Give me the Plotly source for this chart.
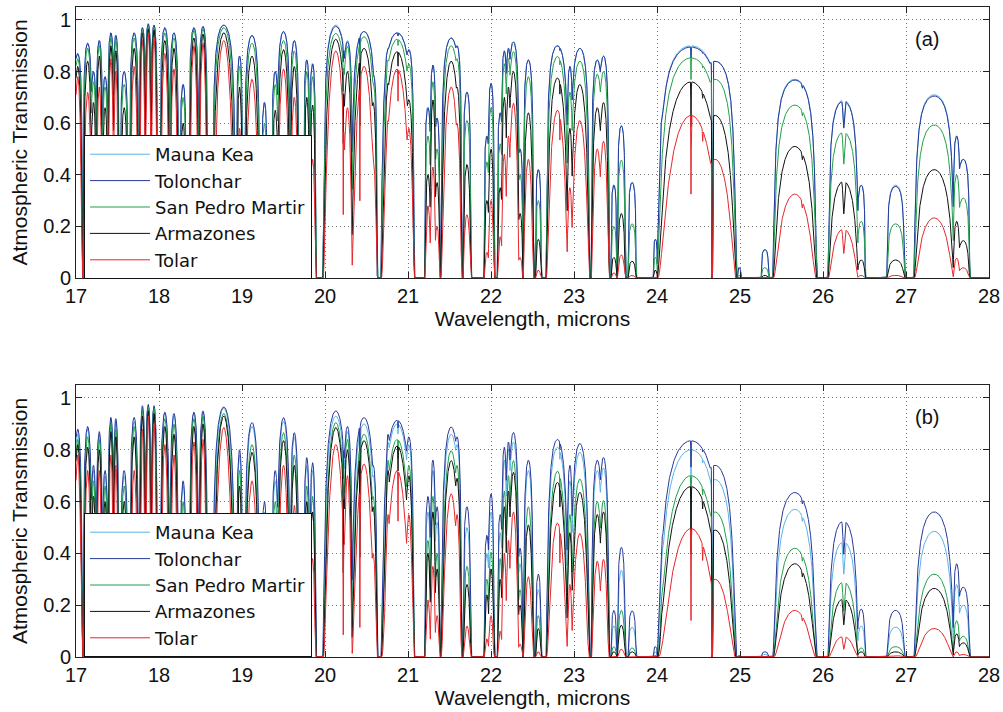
import numpy as np
import plotly.graph_objects as go

# ---------------- data ----------------
sites = ["Mauna Kea", "Tolonchar", "San Pedro Martir", "Armazones", "Tolar"]
site_colors = ["#5AB4E5", "#27399B", "#22A04B", "#111111", "#E8262B"]

# transmission windows: centre (micron) and half width at zero (micron)
win_center = [17.02, 17.14, 17.21, 17.28, 17.35, 17.42, 17.48, 17.58, 17.70, 17.80,
              17.87, 17.94, 18.07, 18.18, 18.29, 18.42, 18.53, 18.78, 18.97, 19.12,
              19.27, 19.40, 19.50, 19.63, 19.78, 19.85, 20.13, 20.27, 20.47, 20.58,
              20.76, 20.87, 21.01, 21.24, 21.30, 21.35, 21.52, 21.59, 21.71, 21.95,
              22.00, 22.11, 22.16, 22.21, 22.27, 22.35, 22.45, 22.57, 22.80, 22.95,
              23.07, 23.28, 23.355, 23.48, 23.57, 23.70, 23.98, 24.07, 24.41, 24.70,
              24.99, 25.30, 25.66, 26.245, 26.46, 26.875, 27.34, 27.61, 27.69]
win_halfwidth = [0.06, 0.06, 0.04, 0.045, 0.04, 0.045, 0.04, 0.05, 0.06, 0.045,
                 0.045, 0.045, 0.065, 0.06, 0.04, 0.065, 0.06, 0.15, 0.04, 0.10,
                 0.035, 0.045, 0.09, 0.06, 0.04, 0.04, 0.16, 0.065, 0.16, 0.05,
                 0.05, 0.20, 0.065, 0.04, 0.04, 0.035, 0.13, 0.06, 0.05, 0.035,
                 0.04, 0.035, 0.04, 0.04, 0.075, 0.035, 0.065, 0.035, 0.14, 0.04,
                 0.12, 0.075, 0.07, 0.035, 0.05, 0.05, 0.025, 0.04, 0.42, 0.26,
                 0.02, 0.045, 0.27, 0.19, 0.05, 0.11, 0.25, 0.045, 0.08]

# peak transmission in each window, panel (a)
a_mauna_kea = [0.87, 0.91, 0.80, 0.92, 0.78, 0.95, 0.94, 0.80, 0.95, 0.97,
               0.985, 0.98, 0.97, 0.95, 0.75, 0.97, 0.975, 0.98, 0.86, 0.94,
               0.68, 0.80, 0.955, 0.92, 0.845, 0.83, 0.98, 0.92, 0.955, 0.79,
               0.89, 0.95, 0.885, 0.66, 0.825, 0.62, 0.93, 0.90, 0.72, 0.55,
               0.754, 0.64, 0.88, 0.89, 0.915, 0.50, 0.845, 0.42, 0.90, 0.82,
               0.89, 0.845, 0.86, 0.36, 0.59, 0.37, 0.15, 0.63, 0.90, 0.84,
               0.04, 0.11, 0.77, 0.69, 0.36, 0.36, 0.71, 0.55, 0.46]
a_tolonchar = [0.87, 0.91, 0.80, 0.92, 0.78, 0.95, 0.94, 0.80, 0.95, 0.97,
               0.985, 0.98, 0.97, 0.95, 0.75, 0.97, 0.975, 0.98, 0.86, 0.94,
               0.68, 0.80, 0.955, 0.92, 0.845, 0.83, 0.975, 0.915, 0.955, 0.79,
               0.89, 0.95, 0.885, 0.66, 0.825, 0.62, 0.93, 0.90, 0.72, 0.55,
               0.754, 0.64, 0.88, 0.89, 0.915, 0.50, 0.845, 0.42, 0.90, 0.82,
               0.89, 0.845, 0.86, 0.36, 0.59, 0.37, 0.15, 0.63, 0.895, 0.84,
               0.04, 0.11, 0.767, 0.685, 0.36, 0.355, 0.705, 0.55, 0.46]
a_san_pedro = [0.85, 0.89, 0.76, 0.90, 0.74, 0.93, 0.92, 0.75, 0.93, 0.96,
               0.975, 0.97, 0.95, 0.93, 0.70, 0.96, 0.965, 0.97, 0.82, 0.91,
               0.60, 0.75, 0.92, 0.88, 0.80, 0.78, 0.948, 0.897, 0.935, 0.75,
               0.845, 0.925, 0.83, 0.55, 0.76, 0.50, 0.90, 0.85, 0.61, 0.45,
               0.66, 0.52, 0.83, 0.85, 0.877, 0.40, 0.78, 0.30, 0.858, 0.72,
               0.84, 0.79, 0.80, 0.20, 0.457, 0.21, 0.08, 0.45, 0.853, 0.77,
               0.01, 0.04, 0.67, 0.565, 0.22, 0.21, 0.593, 0.40, 0.31]
a_armazones = [0.82, 0.84, 0.68, 0.86, 0.66, 0.90, 0.88, 0.66, 0.89, 0.95,
               0.965, 0.96, 0.92, 0.89, 0.60, 0.93, 0.945, 0.95, 0.74, 0.86,
               0.46, 0.65, 0.885, 0.82, 0.70, 0.67, 0.925, 0.80, 0.89, 0.68,
               0.755, 0.877, 0.69, 0.40, 0.69, 0.37, 0.84, 0.74, 0.44, 0.30,
               0.50, 0.35, 0.70, 0.74, 0.80, 0.25, 0.64, 0.15, 0.775, 0.58,
               0.75, 0.66, 0.68, 0.08, 0.25, 0.065, 0.03, 0.24, 0.76, 0.63,
               0.0, 0.01, 0.51, 0.375, 0.07, 0.07, 0.42, 0.22, 0.145]
a_tolar = [0.78, 0.72, 0.50, 0.74, 0.50, 0.85, 0.80, 0.50, 0.82, 0.92,
           0.95, 0.93, 0.87, 0.81, 0.42, 0.90, 0.91, 0.92, 0.58, 0.77,
           0.25, 0.48, 0.81, 0.70, 0.52, 0.46, 0.88, 0.66, 0.82, 0.45,
           0.61, 0.81, 0.58, 0.28, 0.43, 0.20, 0.74, 0.60, 0.245, 0.10,
           0.30, 0.16, 0.48, 0.55, 0.677, 0.08, 0.46, 0.03, 0.65, 0.35,
           0.61, 0.50, 0.53, 0.02, 0.09, 0.01, 0.0, 0.08, 0.63, 0.46,
           0.0, 0.0, 0.325, 0.19, 0.01, 0.01, 0.233, 0.077, 0.04]

# peak transmission in each window, panel (b)
b_mauna_kea = [0.86, 0.88, 0.72, 0.86, 0.70, 0.91, 0.91, 0.70, 0.91, 0.96,
               0.97, 0.965, 0.94, 0.93, 0.66, 0.94, 0.945, 0.96, 0.78, 0.89,
               0.56, 0.68, 0.91, 0.85, 0.74, 0.72, 0.93, 0.87, 0.90, 0.70,
               0.83, 0.90, 0.82, 0.56, 0.72, 0.52, 0.86, 0.82, 0.50, 0.40,
               0.56, 0.48, 0.76, 0.80, 0.83, 0.36, 0.72, 0.26, 0.81, 0.68,
               0.79, 0.72, 0.73, 0.12, 0.335, 0.115, 0.02, 0.42, 0.80, 0.685,
               0.0, 0.01, 0.57, 0.445, 0.12, 0.115, 0.485, 0.28, 0.20]
b_tolonchar = [0.88, 0.89, 0.74, 0.87, 0.72, 0.925, 0.92, 0.72, 0.925, 0.97,
               0.975, 0.97, 0.945, 0.94, 0.68, 0.945, 0.95, 0.965, 0.80, 0.905,
               0.60, 0.72, 0.924, 0.866, 0.77, 0.75, 0.95, 0.89, 0.924, 0.74,
               0.86, 0.914, 0.85, 0.62, 0.76, 0.58, 0.888, 0.85, 0.58, 0.47,
               0.63, 0.55, 0.81, 0.83, 0.867, 0.42, 0.76, 0.32, 0.84, 0.74,
               0.824, 0.76, 0.77, 0.18, 0.424, 0.178, 0.04, 0.47, 0.835, 0.74,
               0.005, 0.02, 0.635, 0.525, 0.185, 0.18, 0.56, 0.36, 0.27]
b_san_pedro = [0.84, 0.85, 0.68, 0.84, 0.66, 0.90, 0.88, 0.66, 0.89, 0.95,
               0.965, 0.96, 0.92, 0.90, 0.60, 0.92, 0.93, 0.94, 0.72, 0.82,
               0.45, 0.60, 0.866, 0.78, 0.66, 0.62, 0.905, 0.84, 0.86, 0.62,
               0.76, 0.84, 0.74, 0.45, 0.62, 0.40, 0.796, 0.74, 0.35, 0.30,
               0.405, 0.38, 0.64, 0.70, 0.758, 0.26, 0.58, 0.16, 0.717, 0.55,
               0.687, 0.60, 0.604, 0.04, 0.18, 0.035, 0.005, 0.25, 0.70, 0.56,
               0.0, 0.0, 0.42, 0.29, 0.035, 0.04, 0.32, 0.14, 0.08]
b_armazones = [0.82, 0.81, 0.62, 0.80, 0.60, 0.87, 0.85, 0.60, 0.85, 0.93,
               0.95, 0.94, 0.89, 0.86, 0.54, 0.89, 0.90, 0.93, 0.66, 0.79,
               0.38, 0.55, 0.835, 0.74, 0.60, 0.56, 0.886, 0.80, 0.835, 0.58,
               0.72, 0.815, 0.70, 0.40, 0.56, 0.34, 0.758, 0.69, 0.28, 0.24,
               0.34, 0.30, 0.58, 0.64, 0.713, 0.20, 0.51, 0.11, 0.674, 0.48,
               0.636, 0.55, 0.56, 0.02, 0.123, 0.02, 0.0, 0.18, 0.658, 0.49,
               0.0, 0.0, 0.36, 0.225, 0.02, 0.02, 0.265, 0.09, 0.055]
b_tolar = [0.78, 0.72, 0.45, 0.72, 0.42, 0.78, 0.74, 0.42, 0.72, 0.88,
           0.93, 0.90, 0.82, 0.78, 0.36, 0.83, 0.84, 0.886, 0.50, 0.68,
           0.18, 0.38, 0.74, 0.585, 0.42, 0.38, 0.82, 0.70, 0.745, 0.40,
           0.55, 0.72, 0.55, 0.22, 0.35, 0.16, 0.63, 0.55, 0.12, 0.07,
           0.16, 0.10, 0.40, 0.45, 0.56, 0.05, 0.31, 0.02, 0.517, 0.28,
           0.477, 0.37, 0.377, 0.0, 0.03, 0.0, 0.0, 0.05, 0.496, 0.30,
           0.0, 0.0, 0.18, 0.08, 0.0, 0.005, 0.11, 0.02, 0.01]

# narrow absorption lines inside the windows
line_center = [18.66, 20.22, 20.42, 20.88, 22.83, 24.41, 24.55, 24.665, 25.75, 26.25]
line_tau = [0.05, 0.07, 0.07, 0.0125, 0.012, 0.05, 0.006, 10.0, 0.02, 0.165]
line_sigma = [0.006, 0.003, 0.003, 0.003, 0.003, 0.003, 0.004, 0.004, 0.006, 0.012]
line_power = [1.0, 1.8, 1.8, 1.8, 1.8, 1.8, 1.8, 0.0, 1.0, 1.0]

# relative water-vapour opacity of each site (shapes the window flanks)
opacity_a = [1.0, 1.0, 1.5, 2.5, 4.2]
opacity_b = [2.0, 1.7, 3.0, 3.6, 6.0]

x_ticks = list(range(17, 29))
y_ticks = [0, 0.2, 0.4, 0.6, 0.8, 1]
y_ticktext = ["0", "0.2", "0.4", "0.6", "0.8", "1"]

# ---------------- build curves ----------------
wl = np.round(np.arange(17.0, 28.0005, 0.001), 4)
DOME = 0.18


def spectrum(peaks, k):
    T = np.zeros_like(wl)
    for c, w, p in zip(win_center, win_halfwidth, peaks):
        if p <= 0:
            continue
        u2 = ((wl - c) / w) ** 2
        m = u2 < 1
        v = np.zeros_like(wl)
        v[m] = p * np.exp(-DOME * k * u2[m] / (1 - u2[m]))
        T = np.maximum(T, v)
    tau = np.zeros_like(wl)
    for c, t, s, pw in zip(line_center, line_tau, line_sigma, line_power):
        tau += t * k ** pw * np.exp(-((wl - c) / s) ** 2)
    return np.round(T * np.exp(-tau), 4)


panel_a = [a_mauna_kea, a_tolonchar, a_san_pedro, a_armazones, a_tolar]
panel_b = [b_mauna_kea, b_tolonchar, b_san_pedro, b_armazones, b_tolar]

fig = go.Figure()
for i, name in enumerate(sites):
    fig.add_trace(go.Scatter(x=wl, y=spectrum(panel_a[i], opacity_a[i]), mode="lines",
                             name=name, line=dict(color=site_colors[i], width=1),
                             xaxis="x", yaxis="y", legend="legend"))
for i, name in enumerate(sites):
    fig.add_trace(go.Scatter(x=wl, y=spectrum(panel_b[i], opacity_b[i]), mode="lines",
                             name=name, line=dict(color=site_colors[i], width=1),
                             xaxis="x2", yaxis="y2", legend="legend2"))

FONT = "Liberation Sans, Arial, Helvetica, sans-serif"
LFONT = "DejaVu Sans, Liberation Sans, sans-serif"
W, H = 1003, 712
xd = [76 / W, 989 / W]
ya = [1 - 278 / H, 1 - 7 / H]
yb = [1 - 657 / H, 1 - 385 / H]

axis_common = dict(showline=True, linecolor="#222", linewidth=1, mirror="ticks",
                   ticks="inside", ticklen=6, tickcolor="#222",
                   showgrid=True, gridcolor="#777", griddash="1px,3px", gridwidth=1,
                   zeroline=False, tickfont=dict(size=20, color="#111", family=FONT),
                   automargin=False)

xcommon = dict(axis_common, range=[17, 28], tickvals=x_ticks, domain=xd,
               title=dict(text="Wavelength, microns", font=dict(size=21, family=FONT, color="#111"), standoff=5))
ycommon = dict(axis_common, range=[0, 1.05], tickvals=y_ticks, ticktext=y_ticktext,
               title=dict(text="Atmospheric Transmission", font=dict(size=21, family=FONT, color="#111"), standoff=9))

legend_common = dict(bgcolor="white", bordercolor="#111", borderwidth=1,
                     font=dict(size=18, family=LFONT, color="#111"),
                     xanchor="left", yanchor="top", itemwidth=60, tracegroupgap=0)

fig.update_layout(
    width=W, height=H, margin=dict(l=0, r=0, t=0, b=0),
    paper_bgcolor="white", plot_bgcolor="white",
    font=dict(family=FONT, color="#111"),
    xaxis=dict(xcommon, anchor="y"),
    yaxis=dict(ycommon, domain=ya, anchor="x"),
    xaxis2=dict(xcommon, anchor="y2"),
    yaxis2=dict(ycommon, domain=yb, anchor="x2"),
    legend=dict(legend_common, x=84 / W, y=1 - 135 / H),
    legend2=dict(legend_common, x=84 / W, y=1 - 513 / H),
    annotations=[
        dict(text="(a)", x=27.25, y=0.925, xref="x", yref="y", showarrow=False,
             font=dict(size=20, family=FONT, color="#111")),
        dict(text="(b)", x=27.25, y=0.925, xref="x2", yref="y2", showarrow=False,
             font=dict(size=20, family=FONT, color="#111")),
    ],
)

fig.write_html("out.html")
